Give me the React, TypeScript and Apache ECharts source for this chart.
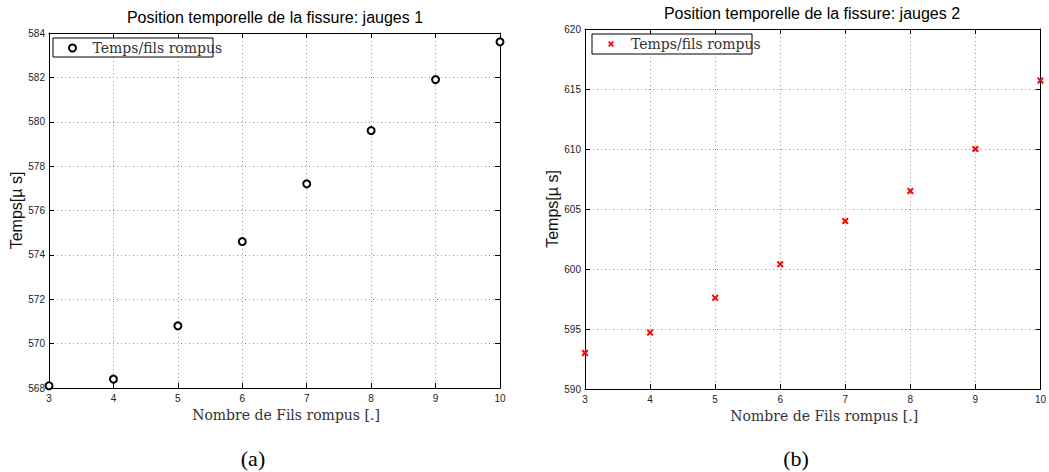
import React, { useEffect, useRef } from "react";
import * as echarts from "echarts";

const fils = [3, 4, 5, 6, 7, 8, 9, 10];
const temps1 = [568.1, 568.4, 570.8, 574.6, 577.2, 579.6, 581.9, 583.6];
const temps2 = [593.0, 594.7, 597.6, 600.4, 604.0, 606.5, 610.0, 615.7];
const seriesName = "Temps/fils rompus";
const titles = [
  "Position temporelle de la fissure: jauges 1",
  "Position temporelle de la fissure: jauges 2",
];
const xName = "Nombre de Fils rompus [.]";
const yName = "Temps[\u00b5 s]";
const captions = ["(a)", "(b)"];
const yRanges = [
  { min: 568, max: 584, interval: 2 },
  { min: 590, max: 620, interval: 5 },
];

const crossPath =
  "path://M0,2L2,0L5,3L8,0L10,2L7,5L10,8L8,10L5,7L2,10L0,8L3,5Z";

const sans = "Liberation Sans, Arial, Helvetica, sans-serif";
const serif = "DejaVu Serif, serif";

export default function App() {
  const ref = useRef<HTMLDivElement>(null);
  useEffect(() => {
    if (!ref.current) return;
    const chart = echarts.init(ref.current, undefined, { renderer: "svg" });

    const grids = [
      { left: 49, top: 33, width: 451, height: 355 },
      { left: 585, top: 29, width: 456, height: 360 },
    ];

    const axisLine = { show: true, onZero: false, lineStyle: { color: "#000", width: 1 } };
    const tick = { show: true, inside: true, length: 5, lineStyle: { color: "#000" } };
    const split = { show: true, lineStyle: { color: "#999", type: [1, 3] as any, width: 1 } };
    const label = { color: "#222", fontFamily: sans, fontSize: 10 };

    const xAxes: any[] = [];
    const yAxes: any[] = [];
    [0, 1].forEach((g) => {
      xAxes.push({
        type: "value",
        gridIndex: g,
        position: "bottom",
        min: 3,
        max: 10,
        interval: 1,
        axisLine,
        axisTick: tick,
        splitLine: split,
        axisLabel: { ...label, margin: 5 },
        name: xName,
        nameLocation: "middle",
        nameGap: 18,
        nameTextStyle: {
          fontFamily: serif,
          fontSize: 14,
          color: "#333",
          padding: [0, 0, 0, 23],
        },
      });
      xAxes.push({
        type: "value",
        gridIndex: g,
        position: "top",
        min: 3,
        max: 10,
        interval: 1,
        axisLine,
        axisTick: tick,
        splitLine: { show: false },
        axisLabel: { show: false },
      });
      const r = yRanges[g];
      yAxes.push({
        type: "value",
        gridIndex: g,
        position: "left",
        min: r.min,
        max: r.max,
        interval: r.interval,
        axisLine,
        axisTick: tick,
        splitLine: split,
        axisLabel: { ...label, margin: 4 },
        name: yName,
        nameLocation: "middle",
        nameGap: g === 0 ? 24 : 22,
        nameTextStyle: { fontFamily: sans, fontSize: 16, color: "#111" },
      });
      yAxes.push({
        type: "value",
        gridIndex: g,
        position: "right",
        min: r.min,
        max: r.max,
        interval: r.interval,
        axisLine,
        axisTick: tick,
        splitLine: { show: false },
        axisLabel: { show: false },
      });
    });

    const legendText = { fontFamily: serif, fontSize: 14, color: "#333" };

    chart.setOption({
      animation: false,
      backgroundColor: "#fff",
      title: [
        {
          text: titles[0],
          left: 275,
          top: 9,
          textAlign: "center",
          padding: 0,
          textStyle: { fontFamily: sans, fontSize: 16, fontWeight: "normal", color: "#000" },
        },
        {
          text: titles[1],
          left: 812,
          top: 5,
          textAlign: "center",
          padding: 0,
          textStyle: { fontFamily: sans, fontSize: 16, fontWeight: "normal", color: "#000" },
        },
      ],
      legend: [
        {
          left: 68,
          top: 41,
          padding: 0,
          itemWidth: 30,
          itemHeight: 7,
          selectedMode: false,
          textStyle: legendText,
          data: [
            {
              name: seriesName,
              icon: "circle",
              itemStyle: { color: "#fff", borderColor: "#000", borderWidth: 2 },
            },
          ],
        },
        {
          left: 608,
          top: 37,
          padding: 0,
          itemWidth: 30,
          itemHeight: 6,
          selectedMode: false,
          textStyle: legendText,
          data: [
            {
              name: seriesName,
              icon: crossPath,
              itemStyle: { color: "#ff0000", borderWidth: 0 },
            },
          ],
        },
      ],
      grid: grids,
      xAxis: xAxes,
      yAxis: yAxes,
      series: [
        {
          type: "scatter",
          name: seriesName,
          xAxisIndex: 0,
          yAxisIndex: 0,
          symbol: "circle",
          symbolSize: 7,
          clip: false,
          itemStyle: { color: "#fff", borderColor: "#000", borderWidth: 2, opacity: 1 },
          data: fils.map((f, i) => [f, temps1[i]]),
          z: 5,
        },
        {
          type: "scatter",
          name: seriesName,
          xAxisIndex: 2,
          yAxisIndex: 2,
          symbol: crossPath,
          symbolSize: 7,
          clip: false,
          itemStyle: { color: "#ff0000", opacity: 1 },
          data: fils.map((f, i) => [f, temps2[i]]),
          z: 5,
        },
      ],
      graphic: [
        {
          type: "rect",
          shape: { x: 53, y: 38, width: 160, height: 19 },
          style: { fill: "#fff", stroke: "#000", lineWidth: 1 },
          z: 3,
        },
        {
          type: "rect",
          shape: { x: 592, y: 34, width: 160, height: 20 },
          style: { fill: "#fff", stroke: "#000", lineWidth: 1 },
          z: 3,
        },
        {
          type: "text",
          x: 253,
          y: 458,
          style: {
            text: captions[0],
            fontFamily: "Liberation Serif, Times New Roman, serif",
            fontSize: 22,
            fill: "#000",
            align: "center",
            verticalAlign: "middle",
          },
        },
        {
          type: "text",
          x: 796,
          y: 458,
          style: {
            text: captions[1],
            fontFamily: "Liberation Serif, Times New Roman, serif",
            fontSize: 22,
            fill: "#000",
            align: "center",
            verticalAlign: "middle",
          },
        },
      ],
    });
    return () => chart.dispose();
  }, []);

  return (
    <div
      ref={ref}
      style={{ position: "fixed", left: 0, top: 0, width: 1049, height: 472, background: "#fff" }}
    />
  );
}
